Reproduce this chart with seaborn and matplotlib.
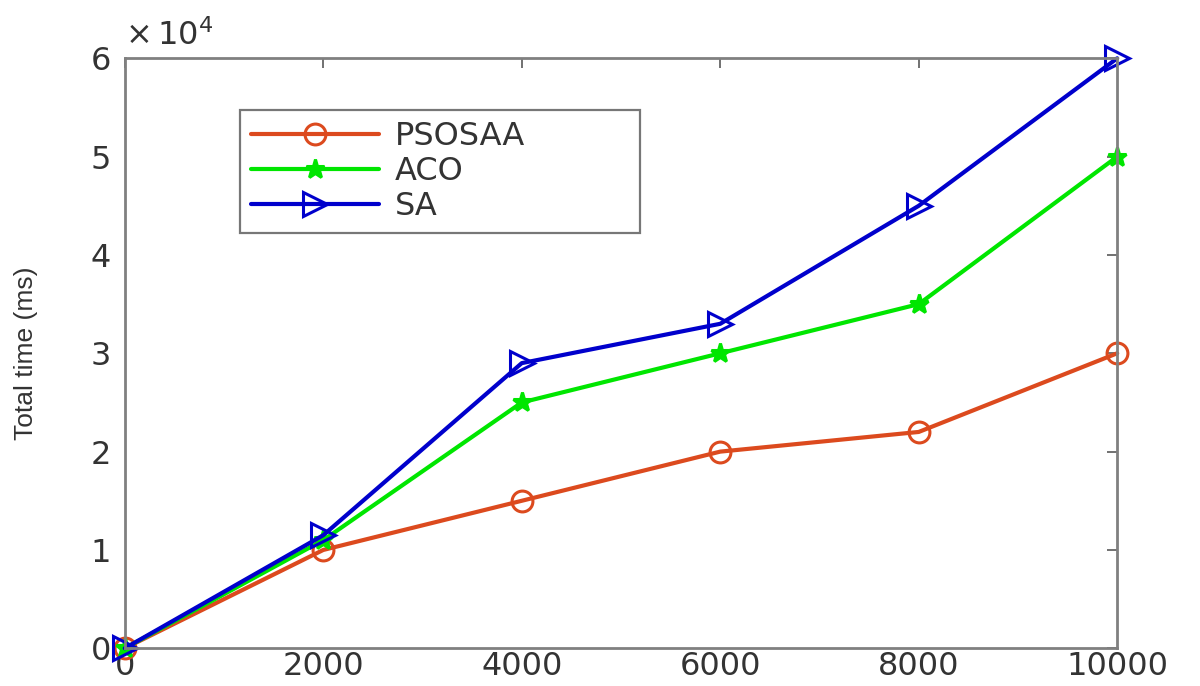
import numpy as np
import pandas as pd
import matplotlib
matplotlib.use("Agg")
import matplotlib.pyplot as plt
import seaborn as sns

tasks = [0, 2000, 4000, 6000, 8000, 10000]
psosaa = [0, 10000, 15000, 20000, 22000, 30000]
aco = [0, 11000, 25000, 30000, 35000, 50000]
sa = [0, 11500, 29000, 33000, 45000, 60000]

sns.set_style("white")
plt.rcParams['font.family'] = ['DejaVu Sans']

fig = plt.figure(figsize=(12, 6.86), dpi=100)
ax = fig.add_axes([0.104, 0.055, 0.827, 0.86])

styles = [
    ("PSOSAA", psosaa, "#DC4A1E", "o", "none", 15),
    ("ACO", aco, "#00E600", "*", "#00E600", 14),
    ("SA", sa, "#0000CC", ">", "none", 17),
]
for name, vals, col, mk, mfc, ms in styles:
    sns.lineplot(x=tasks, y=vals, ax=ax, color=col, marker=mk, markersize=ms,
                 markerfacecolor=mfc, markeredgecolor=col, markeredgewidth=2.2,
                 linewidth=3, label=name, clip_on=False)

ax.set_xlim(0, 10000)
ax.set_ylim(0, 60000)
ax.set_xticks(tasks)
ax.set_yticks(np.arange(0, 60001, 10000))
ax.set_yticklabels([str(int(v / 10000)) for v in np.arange(0, 60001, 10000)])
ax.tick_params(direction='in', length=7, width=1.3, color='#666666',
               top=True, right=True, labelsize=23, labelcolor='#333333', pad=2)
ax.tick_params(axis='y', pad=10)
for sp in ax.spines.values():
    sp.set_color('#808080')
    sp.set_linewidth(2)
ax.set_ylabel("Total time (ms)", fontsize=19, color='#333333', labelpad=38,
              family='Liberation Sans')
ax.text(0.0, 1.01, r"$\times\,10^{4}$", transform=ax.transAxes, fontsize=23,
        color='#333333', ha='left', va='bottom')

leg = ax.legend(loc='upper left', bbox_to_anchor=(0.116, 0.712, 0.403, 0.2),
                mode='expand', fontsize=23, frameon=True, fancybox=False,
                borderpad=0.35, labelspacing=0.12, handlelength=4.0,
                handletextpad=0.5, borderaxespad=0)
leg.get_frame().set_edgecolor('#555555')
leg.get_frame().set_linewidth(1.6)
for t in leg.get_texts():
    t.set_color('#333333')

fig.savefig("out.png", dpi=100)
